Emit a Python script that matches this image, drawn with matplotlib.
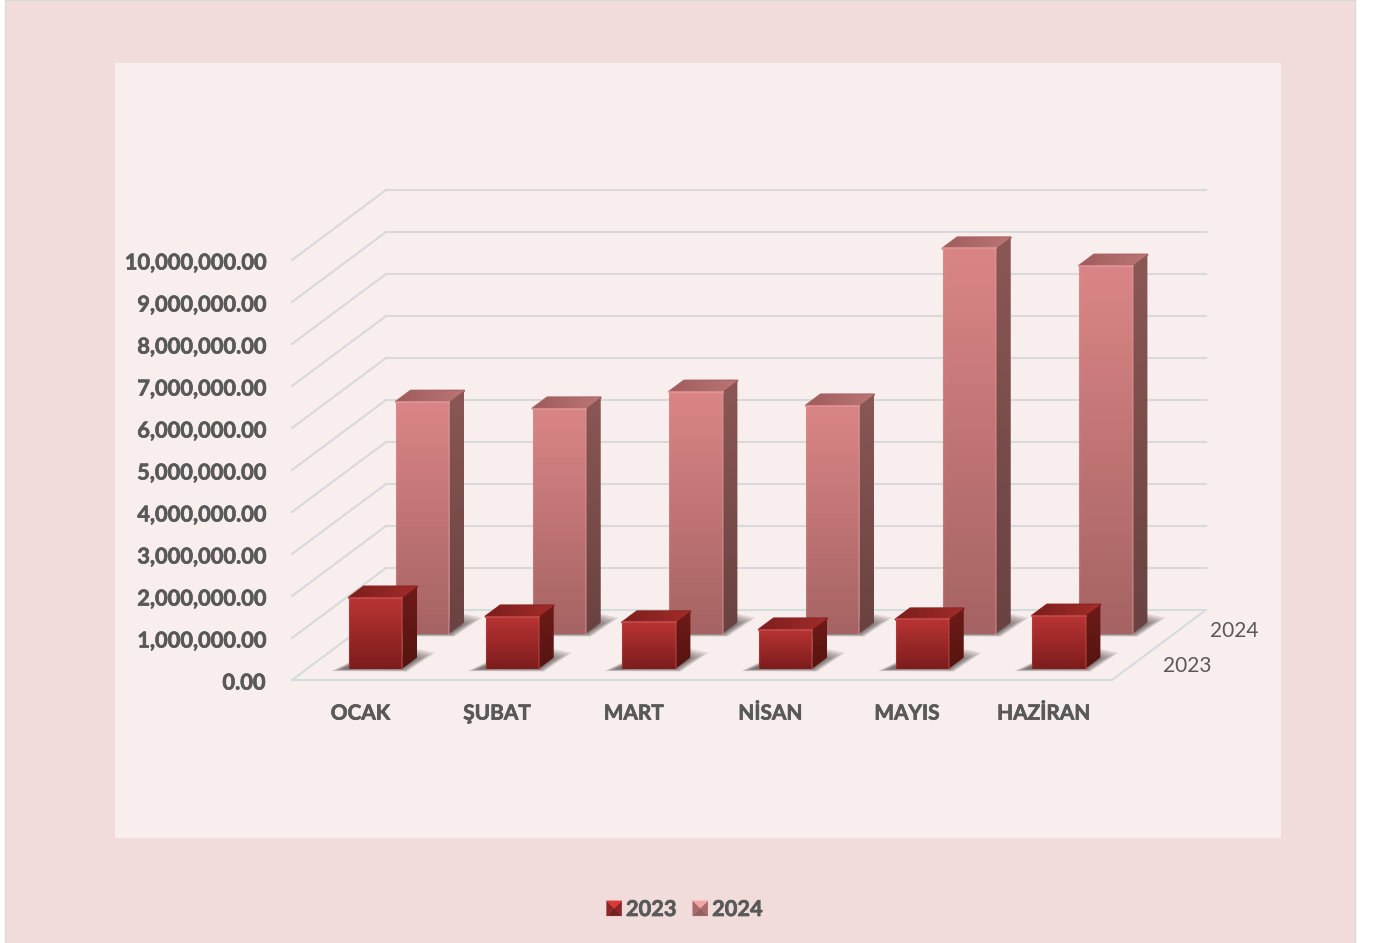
import numpy as np
import matplotlib
matplotlib.use("Agg")
import matplotlib.pyplot as plt
import matplotlib.patheffects as pe
from matplotlib.colors import to_rgb
from matplotlib.patches import Polygon, Rectangle
from matplotlib.legend_handler import HandlerBase
from matplotlib.transforms import ScaledTranslation

months = ["OCAK", "ŞUBAT", "MART", "NİSAN", "MAYIS", "HAZİRAN"]
series_names = ["2023", "2024"]
values_2023 = [1690000, 1240000, 1100000, 930000, 1170000, 1260000]
values_2024 = [5520000, 5360000, 5760000, 5430000, 9170000, 8760000]
y_ticks = [0, 1000000, 2000000, 3000000, 4000000, 5000000, 6000000, 7000000, 8000000, 9000000, 10000000]

W, H = 1373, 943
plt.rcParams["font.family"] = ["Lato", "Open Sans", "DejaVu Sans"]
TEXT = "#595959"
FS = 15.0
FS_Y = 15.7
THICK = [pe.withStroke(linewidth=0.5, foreground=TEXT)]
fig = plt.figure(figsize=(W / 100, H / 100), dpi=100, facecolor="white")

fig.patches.append(Rectangle((5 / W, 0), 1349.5 / W, 1.0, transform=fig.transFigure,
                             facecolor="#F2DCDB", edgecolor="#D9D9D9", linewidth=1, zorder=-3))
fig.patches.append(Rectangle((115 / W, 1 - 838 / H), 1166 / W, 775 / H, transform=fig.transFigure,
                             facecolor="#F9EEEE", edgecolor="none", zorder=-2))

ax = fig.add_axes([292 / W, 1 - 680 / H, 820 / W, 420 / H])
ax.patch.set_visible(False)
for s in ax.spines.values():
    s.set_visible(False)
ax.set_xlim(-0.5, 5.5)
ax.set_ylim(0, 1e7)
ax.set_autoscale_on(False)

# oblique projection: one series step in depth, in data units
PX_X = 6 / 820
PX_Y = 1e7 / 420
STEP_X = 47 * PX_X
STEP_Y = 35 * PX_Y


def proj(x, v, z):
    return (x + z * STEP_X, v + z * STEP_Y)


GRID = "#D9D9D9"
FLOOR = "#D5DCDC"
for t in y_ticks:
    col = FLOOR if t == 0 else GRID
    ax.plot(*zip(proj(-0.5, t, 0), proj(-0.5, t, 2)), color=col, lw=1.5, clip_on=False, zorder=1)
    ax.plot(*zip(proj(-0.5, t, 2), proj(5.5, t, 2)), color=col, lw=1.5, clip_on=False, zorder=1)
ax.plot(*zip(proj(-0.5, 0, 0), proj(5.5, 0, 0)), color=FLOOR, lw=1.5, clip_on=False, zorder=1)
ax.plot(*zip(proj(5.5, 0, 0), proj(5.5, 0, 2)), color=FLOOR, lw=1.5, clip_on=False, zorder=1)


def grad(poly, c0, c1, z, horizontal=False):
    """Fill a polygon with a linear gradient from c0 (top/left) to c1 (bottom/right)."""
    xs, ys = zip(*poly)
    t = np.linspace(0, 1, 64)
    a, b = np.array(to_rgb(c0)), np.array(to_rgb(c1))
    arr = a[None, :] * (1 - t[:, None]) + b[None, :] * t[:, None]
    arr = arr[None, :, :] if horizontal else arr[:, None, :]
    im = ax.imshow(arr, extent=(min(xs), max(xs), min(ys), max(ys)), origin="upper",
                   aspect="auto", interpolation="bilinear", zorder=z)
    pg = Polygon(poly, closed=True, transform=ax.transData)
    im.set_clip_box(fig.bbox)
    im.set_clip_path(pg)


BW = 0.39 / 2      # half bar width
Z0, Z1 = 0.325, 0.64

STYLES = [
    dict(front=("#B93434", "#7D1C1C"), side=("#6E1B18", "#551410"),
         top=("#7C1E1C", "#A32C2A"), rim="#C9504E", edge="#8A2422"),
    dict(front=("#DA8585", "#A66363"), side=("#8A5755", "#694241"),
         top=("#A05C5C", "#BB7575"), rim="#E49A9A", edge="#A86464"),
]


def shadow(x, row, z):
    """Soft floor shadow built from nested polygons, offsets given in pixels from the bar foot."""
    x0, x1 = x - BW, x + BW
    bx, bv = proj(0, 0, row + Z0)
    outer = [(-18, -2.5, "l"), (5, -3, "r"), (33, 16, "r"), (14, 20, "r"), (10, 11, "l")]
    inner = [(-7, -0.5, "l"), (0, 0, "r"), (12, 8, "r"), (6, 12, "r"), (10, 7, "l")]
    layers = 9
    for e in np.linspace(0, 1, layers):
        pts = []
        for (ox, oy, side), (ix, iy, _) in zip(outer, inner):
            dx = ox * (1 - e) + ix * e
            dy = oy * (1 - e) + iy * e
            base = x0 if side == "l" else x1
            pts.append((base + bx + dx * PX_X, bv + dy * PX_Y))
        ax.add_patch(Polygon(pts, closed=True, facecolor="#2A2020", edgecolor="none",
                             alpha=0.095, clip_on=False, zorder=z))


def bar(x, v, row, st, z):
    x0, x1 = x - BW, x + BW
    z0, z1 = row + Z0, row + Z1
    f = [proj(x0, 0, z0), proj(x1, 0, z0), proj(x1, v, z0), proj(x0, v, z0)]
    s = [proj(x1, 0, z0), proj(x1, 0, z1), proj(x1, v, z1), proj(x1, v, z0)]
    t = [proj(x0, v, z0), proj(x1, v, z0), proj(x1, v, z1), proj(x0, v, z1)]
    # rounded silhouette of the top face
    ax.add_patch(Polygon(t, closed=True, facecolor="none", edgecolor=st["edge"], lw=1.6,
                         joinstyle="round", clip_on=False, zorder=z - 0.1))
    grad(s, *st["side"], z)
    grad(t, *st["top"], z, horizontal=True)
    grad(f, *st["front"], z + 0.1)
    # bevel highlights
    ax.plot(*zip(f[3], f[2]), color=st["rim"], lw=1.5, alpha=0.7, clip_on=False, zorder=z + 0.2,
            solid_capstyle="round")
    ax.plot(*zip(f[1], f[2]), color=st["rim"], lw=1.3, alpha=0.45, clip_on=False, zorder=z + 0.2)
    ax.plot(*zip(f[0], f[3]), color=st["rim"], lw=1.0, alpha=0.3, clip_on=False, zorder=z + 0.2)


for i, v in enumerate(values_2024):
    shadow(i, 1, 2)
    bar(i, v, 1, STYLES[1], 3)
for i, v in enumerate(values_2023):
    shadow(i, 0, 4)
    bar(i, v, 0, STYLES[0], 5)

ax.set_yticks(y_ticks)
ax.set_yticklabels([f"{t:,.2f}" for t in y_ticks], fontsize=FS_Y, fontweight="bold", color=TEXT,
                   path_effects=THICK)
ax.set_xticks(range(len(months)))
ax.set_xticklabels(months, fontsize=FS, fontweight="bold", color=TEXT, path_effects=THICK)
ax.tick_params(axis="y", length=0, pad=19.5)
ax.tick_params(axis="x", length=0, pad=17)
for lab in ax.get_yticklabels():
    lab.set_transform(lab.get_transform() + ScaledTranslation(0, -1 / 100, fig.dpi_scale_trans))

# depth axis labels
for row, name in enumerate(series_names):
    px, py = proj(5.5, 0, row + 0.5)
    ax.annotate(name, xy=(px, py), xycoords="data", xytext=(19.5, -2.5), textcoords="offset points",
                fontsize=FS, color=TEXT, ha="left", va="center", annotation_clip=False)


class BevelHandler(HandlerBase):
    def __init__(self, light, mid, dark):
        super().__init__()
        self.light, self.mid, self.dark = light, mid, dark

    def create_artists(self, legend, orig, xd, yd, w, h, fs, trans):
        cx, cy = -xd + w / 2, -yd + h / 2
        d = 5.4
        x0, x1, y0, y1 = cx - d, cx + d, cy - d, cy + d
        m = (cx, cy + d * 0.05)
        parts = [([(x0, y0), (x1, y0), m], self.dark),
                 ([(x0, y1), (x0, y0), m], self.mid),
                 ([(x1, y1), (x1, y0), m], self.mid),
                 ([(x0, y1), (x1, y1), m], self.light)]
        return [Polygon(p, closed=True, facecolor=c, edgecolor=c, lw=0.3, transform=trans)
                for p, c in parts]


h23 = Rectangle((0, 0), 1, 1)
h24 = Rectangle((0, 0), 1, 1)
leg = fig.legend([h23, h24], series_names,
                 handler_map={h23: BevelHandler("#DC3A3A", "#8E2424", "#752020"),
                              h24: BevelHandler("#F2A5A5", "#A86A6A", "#935E5E")},
                 loc="center", bbox_to_anchor=(684.5 / W, 1 - 909.5 / H), ncol=2, frameon=False,
                 prop=dict(size=FS_Y, weight="bold"), labelcolor=TEXT,
                 handlelength=0.7, handleheight=0.7, handletextpad=0.19, columnspacing=0.75)
for txt in leg.get_texts():
    txt.set_path_effects(THICK)

ax.set_xlim(-0.5, 5.5)
ax.set_ylim(0, 1e7)
fig.savefig("out.png", dpi=100)
